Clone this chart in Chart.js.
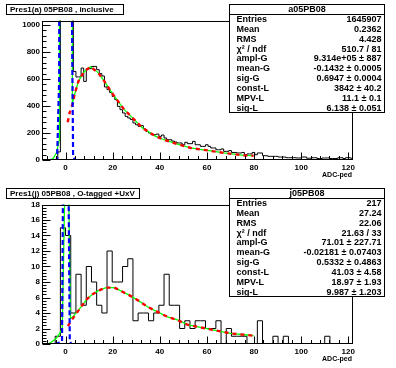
<!DOCTYPE html>
<html>
<head>
<meta charset="utf-8">
<script src="https://cdn.jsdelivr.net/npm/chart.js@4"></script>
<style>
  body { margin: 0; background: #fff; }
  canvas { position: absolute; left: 0; display: block; }
  #topPad { top: 0; }
  #botPad { top: 184px; }
</style>
</head>
<body>
<canvas id="topPad" width="396" height="184"></canvas>
<canvas id="botPad" width="396" height="184"></canvas>
<script>
// axis ranges and tick labels (same x axis on both pads)
const xMin = -10, xMax = 122;
const xTicks = [0, 20, 40, 60, 80, 100, 120];
const topYMax = 1033;
const topYTicks = [0, 200, 400, 600, 800, 1000];
const botYMax = 18;
const botYTicks = [0, 2, 4, 6, 8, 10, 12, 14, 16, 18];

// top histogram: 120 bins of 1.1 starting at -9.9 (pedestal bins go off scale)
const topBinStart = -9.9;
const topBinWidth = 1.1;
const topCounts = [
  0, 0, 0, 0, 0, 5, 60, 2000, 2000, 2000,
  2000, 2000, 656, 615, 615, 681, 582, 676, 676, 693,
  693, 669, 640, 622, 541, 521, 500, 470, 447, 397,
  373, 348, 323, 311, 300, 274, 261, 249, 255, 230,
  212, 200, 187, 187, 192, 175, 185, 163, 150, 150,
  140, 133, 126, 126, 113, 131, 121, 121, 138, 113,
  113, 101, 101, 113, 101, 89, 89, 76, 76, 82,
  64, 64, 70, 56, 56, 52, 52, 56, 39, 45,
  45, 56, 39, 52, 52, 32, 32, 27, 27, 27,
  27, 22, 22, 22, 17, 17, 17, 17, 15, 15,
  22, 22, 13, 13, 17, 17, 11, 11, 15, 15,
  15, 11, 11, 11, 17, 17, 11, 17, 17, 13
];

// bottom histogram: 60 bins of 2.2 starting at -11
const botBinStart = -11;
const botBinWidth = 2.2;
const botCounts = [
  0, 0, 0, 1, 15, 14, 4, 9, 5, 10,
  8, 5, 4, 12, 8, 8, 10, 11, 3, 4,
  4, 3, 4, 5, 9, 5, 5, 2, 3, 2,
  3, 3, 2, 2, 3, 0, 2, 1, 1, 1,
  0, 0, 3, 0, 0, 1, 0, 1, 0, 0,
  0, 0, 0, 0, 0, 1, 0, 0, 0, 0
];

// fit curves, [x, y]
const topFitTotal = [[-6.5, 0], [-5.2, 12], [-3.9, 52], [-2.6, 150], [-1.7, 40000], [-0.1, 930000],
  [1.5, 40000], [2.9, 420], [3.8, 483], [5.5, 585], [8.0, 656], [10.6, 690], [13.7, 649],
  [16.5, 582], [20.0, 489], [24.9, 373], [27.8, 323], [32.7, 237], [38.3, 175], [41.8, 150],
  [47.5, 118], [53.1, 89], [57.0, 79], [60.2, 71], [67.2, 52], [75.6, 34], [79.8, 32]];
const topFitLandau = [[0.9, 280], [1.7, 348], [3.1, 422], [3.8, 483], [5.5, 585], [8.0, 656],
  [10.6, 690], [13.7, 649], [16.5, 582], [20.0, 489], [24.9, 373], [27.8, 323], [32.7, 237],
  [38.3, 175], [41.8, 150], [47.5, 118], [53.1, 89], [57.0, 79], [60.2, 71], [67.2, 52],
  [75.6, 34], [79.8, 32]];
const topFitGauss = [[-4.5, 0], [-3.6, 1], [-2.7, 600], [-1.8, 30000], [-0.1, 930000],
  [1.6, 30000], [2.7, 1100], [3.2, 30], [4.0, 0], [8.3, 0]];

const botFitTotal = [[-7.4, 0], [-5.5, 0.35], [-3.9, 0.73], [-2.5, 1.37], [-1.4, 2.0], [0.3, 30],
  [0.8, 30], [2.1, 3.3], [3.1, 3.5], [6.6, 4.8], [8.7, 5.66], [10.9, 6.3], [13.7, 6.85],
  [17.2, 7.28], [20.7, 7.28], [23.5, 6.85], [27.0, 6.3], [30.6, 5.66], [34.8, 4.8], [39.0, 4.15],
  [43.3, 3.5], [47.5, 3.1], [51.7, 2.5], [57.2, 2.15], [63.0, 1.8], [70.0, 1.37], [77.0, 1.16],
  [79.8, 1.07]];
const botFitLandau = [[1.0, 2.3], [1.7, 2.66], [3.1, 3.3], [6.6, 4.8], [8.7, 5.66], [10.9, 6.3],
  [13.7, 6.85], [17.2, 7.28], [20.7, 7.28], [23.5, 6.85], [27.0, 6.3], [30.6, 5.66], [34.8, 4.8],
  [39.0, 4.15], [43.3, 3.5], [47.5, 3.1], [51.7, 2.5], [57.2, 2.15], [63.0, 1.8], [70.0, 1.37],
  [77.0, 1.16], [79.8, 1.07]];
const botFitGauss = [[-4.5, 0], [-1.5, 0.3], [-0.5, 48], [0, 71], [0.5, 48], [1.8, 0.3],
  [2.5, 0], [4.5, 0]];

// titles and stat boxes
const topTitle = 'Pres1(a) 05PB08 , inclusive';
const botTitle = 'Pres1(j) 05PB08 , O-tagged +UxV';
const topStatsName = 'a05PB08';
const botStatsName = 'j05PB08';
const statLabels = ['Entries', 'Mean', 'RMS', 'χ² / ndf', 'ampl-G', 'mean-G', 'sig-G', 'const-L', 'MPV-L', 'sig-L'];
const topStatValues = ['1645907', '0.2362', '4.428', '510.7 / 81', '9.314e+05 ± 887', '-0.1432 ± 0.0005',
  '0.6947 ± 0.0004', '3842 ± 40.2', '11.1 ± 0.1', '6.138 ± 0.051'];
const botStatValues = ['217', '27.24', '22.06', '21.63 / 33', '71.01 ± 227.71', '-0.02181 ± 0.07403',
  '0.5332 ± 0.4863', '41.03 ± 4.58', '18.97 ± 1.93', '9.987 ± 1.203'];
const xTitle = 'ADC-ped';

const FONT = '"Liberation Sans", Arial, sans-serif';

function histPoints(start, width, counts) {
  const pts = [{ x: start, y: 0 }];
  counts.forEach((c, i) => pts.push({ x: start + i * width, y: c }));
  const end = start + counts.length * width;
  pts.push({ x: end, y: counts[counts.length - 1] });
  pts.push({ x: end, y: 0 });
  return pts;
}

function curve(points, color, width, dash) {
  return {
    data: points.map(p => ({ x: p[0], y: p[1] })),
    borderColor: color,
    borderWidth: width,
    borderDash: dash,
    pointRadius: 0,
    fill: false,
    tension: 0
  };
}

// ROOT style frame, inner ticks, title box and stats box
const rootDecor = {
  id: 'rootDecor',
  afterDraw(chart, args, o) {
    const ctx = chart.ctx;
    const a = chart.chartArea;
    const xs = chart.scales.x, ys = chart.scales.y;
    const L = Math.round(a.left) + 0.5, R = Math.round(a.right) - 0.5;
    const T = Math.round(a.top) + 0.5, B = Math.round(a.bottom) - 0.5;
    ctx.save();
    ctx.strokeStyle = '#000';
    ctx.lineWidth = 1;
    ctx.strokeRect(L, T, R - L, B - T);

    // y ticks
    ctx.beginPath();
    const yStep = o.yTicks[1] - o.yTicks[0];
    for (let v = 0; v <= ys.max + 1e-9; v += yStep / 5) {
      const major = Math.abs(v / yStep - Math.round(v / yStep)) < 1e-6;
      const py = Math.round(ys.getPixelForValue(v)) + 0.5;
      ctx.moveTo(L, py);
      ctx.lineTo(L + (major ? 8 : 4), py);
    }
    // x ticks
    for (let v = -8; v <= xs.max + 1e-9; v += 4) {
      if (v < xs.min) continue;
      const major = Math.abs(v / 20 - Math.round(v / 20)) < 1e-6;
      const px = Math.round(xs.getPixelForValue(v)) + 0.5;
      ctx.moveTo(px, B);
      ctx.lineTo(px, B - (major ? 7 : 3.5));
    }
    ctx.stroke();

    // title box
    ctx.font = 'bold 8px ' + FONT;
    ctx.textBaseline = 'middle';
    ctx.textAlign = 'left';
    ctx.fillStyle = '#fff';
    ctx.fillRect(6.5, 4.5, o.titleW, 10);
    ctx.strokeRect(6.5, 4.5, o.titleW, 10);
    ctx.fillStyle = '#000';
    ctx.fillText(o.title, 10, 10);

    // stats box
    const sl = 229.5, sr = 384.5, st = 4.5, sb = 112.5;
    const rowH = (sb - st) / 11;
    ctx.fillStyle = '#fff';
    ctx.fillRect(sl, st, sr - sl, sb - st);
    ctx.strokeRect(sl, st, sr - sl, sb - st);
    ctx.beginPath();
    ctx.moveTo(sl, Math.round(st + rowH) + 0.5);
    ctx.lineTo(sr, Math.round(st + rowH) + 0.5);
    ctx.stroke();
    ctx.fillStyle = '#000';
    ctx.font = 'bold 9px ' + FONT;
    ctx.textAlign = 'center';
    ctx.fillText(o.statsName, (sl + sr) / 2, st + rowH / 2 + 0.5);
    statLabels.forEach((lab, i) => {
      const y = st + rowH * (i + 1.5) + 0.5;
      ctx.textAlign = 'left';
      ctx.fillText(lab, sl + 7, y);
      ctx.textAlign = 'right';
      ctx.fillText(o.statValues[i], sr - 3, y);
    });

    // axis title
    ctx.font = 'bold 7px ' + FONT;
    ctx.textAlign = 'right';
    ctx.fillText(xTitle, 352, 175.5);
    ctx.restore();
  }
};

function buildPad(canvasId, hist, fits, yMax, yTicks, decor) {
  const ctx = document.getElementById(canvasId);
  const tickFont = { family: FONT, size: 8, weight: 'bold' };
  return new Chart(ctx, {
    type: 'line',
    data: {
      datasets: [
        curve(fits.gauss, '#0000ff', 2.2, [5, 3]),
        curve(fits.landau, '#ff0000', 2.4, [4, 4]),
        curve(fits.total, '#00ff00', 1.3, []),
        {
          data: hist,
          borderColor: '#000',
          borderWidth: 1,
          stepped: 'before',
          pointRadius: 0,
          fill: false
        }
      ]
    },
    options: {
      responsive: false,
      animation: false,
      devicePixelRatio: 1,
      layout: { padding: { left: 0, right: 43, top: 20.5, bottom: 0 } },
      plugins: {
        legend: { display: false },
        tooltip: { enabled: false },
        rootDecor: decor
      },
      scales: {
        x: {
          type: 'linear', min: xMin, max: xMax,
          grid: { display: false, drawTicks: false }, border: { display: false },
          afterBuildTicks: s => { s.ticks = xTicks.map(v => ({ value: v })); },
          afterFit: s => { s.height = 24; },
          ticks: { font: tickFont, color: '#000', padding: 3, maxRotation: 0, autoSkip: false,
            callback: v => String(v) }
        },
        y: {
          type: 'linear', min: 0, max: yMax,
          grid: { display: false, drawTicks: false }, border: { display: false },
          afterBuildTicks: s => { s.ticks = yTicks.map(v => ({ value: v })); },
          afterFit: s => { s.width = 42; },
          ticks: { font: tickFont, color: '#000', padding: 2, autoSkip: false,
            callback: v => String(v) }
        }
      }
    },
    plugins: [rootDecor]
  });
}

buildPad('topPad', histPoints(topBinStart, topBinWidth, topCounts),
  { total: topFitTotal, landau: topFitLandau, gauss: topFitGauss },
  topYMax, topYTicks,
  { yTicks: topYTicks, title: topTitle, titleW: 117, statsName: topStatsName, statValues: topStatValues });

buildPad('botPad', histPoints(botBinStart, botBinWidth, botCounts),
  { total: botFitTotal, landau: botFitLandau, gauss: botFitGauss },
  botYMax, botYTicks,
  { yTicks: botYTicks, title: botTitle, titleW: 133, statsName: botStatsName, statValues: botStatValues });
</script>
</body>
</html>
